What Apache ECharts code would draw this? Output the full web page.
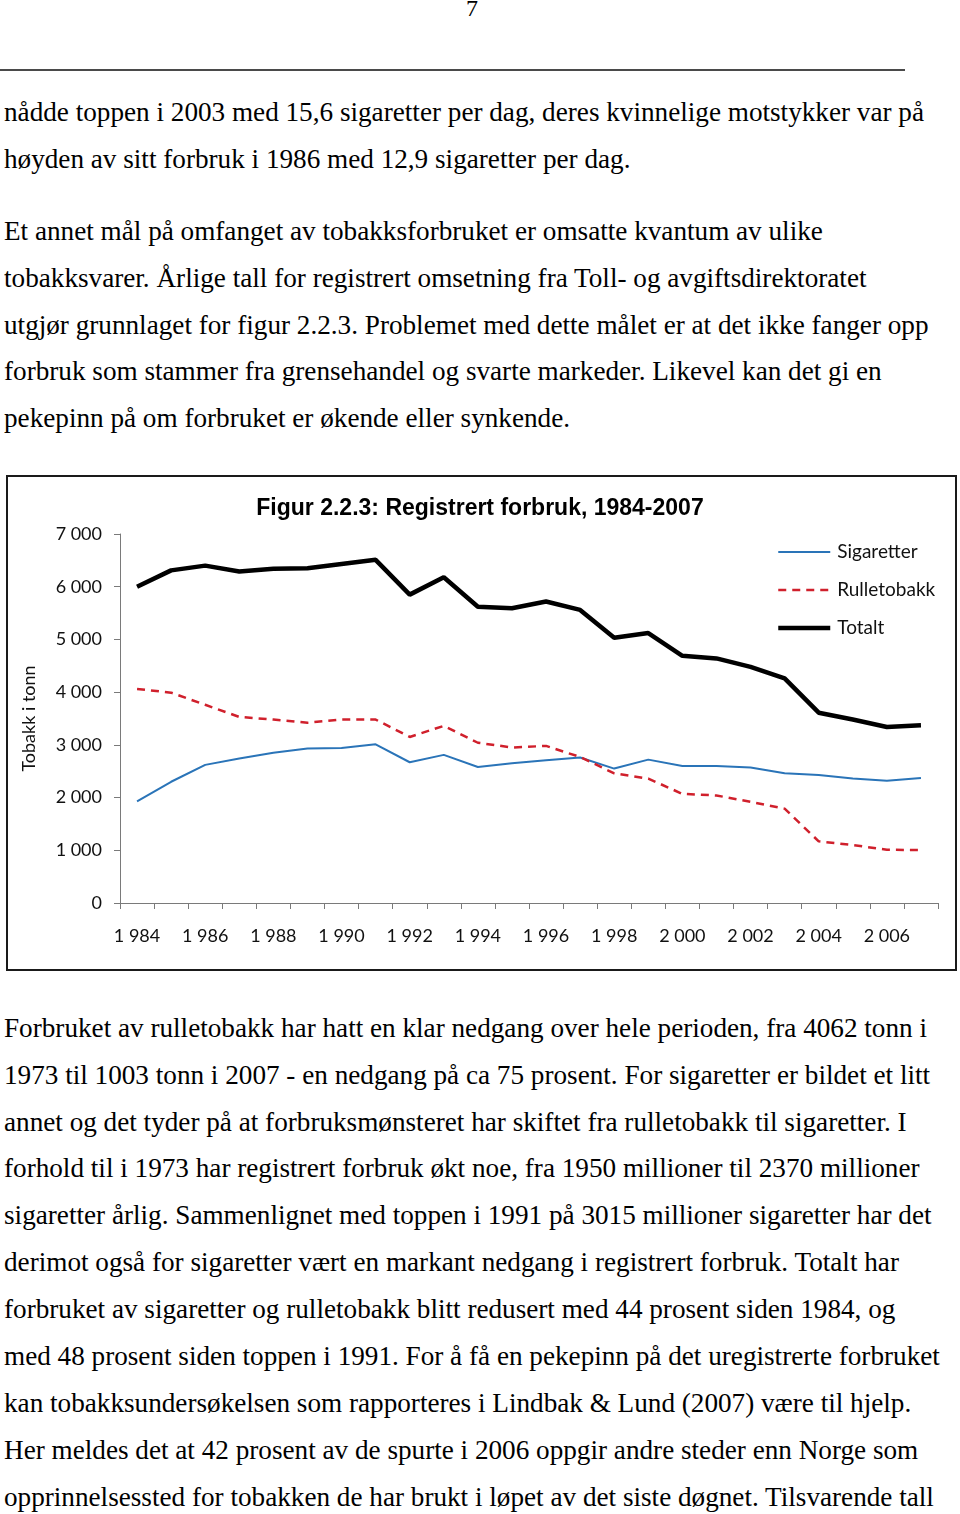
<!DOCTYPE html>
<html>
<head>
<meta charset="utf-8">
<script src="https://cdn.jsdelivr.net/npm/echarts@6/dist/echarts.min.js"></script>
<style>
html,body{margin:0;padding:0;background:#fff;}
body{width:960px;height:1514px;position:relative;overflow:hidden;font-family:"Liberation Serif","Times New Roman",serif;color:#000;}
.ln{position:absolute;left:4px;white-space:nowrap;font-size:27px;line-height:27px;transform-origin:0 0;}
#pg{position:absolute;left:0;width:944px;text-align:center;top:-4px;font-size:24px;line-height:24px;}
#rule{position:absolute;left:0;top:69px;width:905px;height:2px;background:#4a4a4a;}
#box{position:absolute;left:6px;top:475px;width:947px;height:492px;border:2px solid #1a1a1a;}
#chart{position:absolute;left:0;top:470px;width:960px;height:510px;}
</style>
</head>
<body>
<div id="pg">7</div>
<div id="rule"></div>
<div id="box"></div>
<div id="chart"></div>
<script>
// ---- chart data ----
const years = [1984,1985,1986,1987,1988,1989,1990,1991,1992,1993,1994,1995,1996,1997,1998,1999,2000,2001,2002,2003,2004,2005,2006,2007];
const sigaretter = [1930,2300,2620,2740,2850,2930,2940,3010,2670,2810,2580,2650,2710,2760,2550,2720,2600,2600,2570,2460,2430,2360,2320,2370];
const rulletobakk = [4060,3990,3760,3530,3480,3420,3480,3480,3150,3360,3040,2950,2980,2770,2460,2360,2070,2040,1920,1790,1170,1100,1010,1003];
const totalt = [6000,6310,6400,6290,6340,6350,6430,6510,5850,6180,5620,5590,5720,5560,5030,5120,4690,4640,4480,4260,3610,3480,3340,3370];
const seriesNames = ["Sigaretter","Rulletobakk","Totalt"];
const titleText = "Figur 2.2.3: Registrert forbruk, 1984-2007";
const yAxisName = "Tobakk i tonn";

// ---- page text ----
const lines = [
 [113,"nådde toppen i 2003 med 15,6 sigaretter per dag, deres kvinnelige motstykker var på"],
 [160,"høyden av sitt forbruk i 1986 med 12,9 sigaretter per dag."],
 [232,"Et annet mål på omfanget av tobakksforbruket er omsatte kvantum av ulike"],
 [279,"tobakksvarer. Årlige tall for registrert omsetning fra Toll- og avgiftsdirektoratet"],
 [326,"utgjør grunnlaget for figur 2.2.3. Problemet med dette målet er at det ikke fanger opp"],
 [372,"forbruk som stammer fra grensehandel og svarte markeder. Likevel kan det gi en"],
 [419,"pekepinn på om forbruket er økende eller synkende."],
 [1029,"Forbruket av rulletobakk har hatt en klar nedgang over hele perioden, fra 4062 tonn i"],
 [1076,"1973 til 1003 tonn i 2007 - en nedgang på ca 75 prosent. For sigaretter er bildet et litt"],
 [1123,"annet og det tyder på at forbruksmønsteret har skiftet fra rulletobakk til sigaretter. I"],
 [1169,"forhold til i 1973 har registrert forbruk økt noe, fra 1950 millioner til 2370 millioner"],
 [1216,"sigaretter årlig. Sammenlignet med toppen i 1991 på 3015 millioner sigaretter har det"],
 [1263,"derimot også for sigaretter vært en markant nedgang i registrert forbruk. Totalt har"],
 [1310,"forbruket av sigaretter og rulletobakk blitt redusert med 44 prosent siden 1984, og"],
 [1357,"med 48 prosent siden toppen i 1991. For å få en pekepinn på det uregistrerte forbruket"],
 [1404,"kan tobakksundersøkelsen som rapporteres i Lindbak & Lund (2007) være til hjelp."],
 [1451,"Her meldes det at 42 prosent av de spurte i 2006 oppgir andre steder enn Norge som"],
 [1498,"opprinnelsessted for tobakken de har brukt i løpet av det siste døgnet. Tilsvarende tall"]
];
const els = lines.map(([c,t]) => {
  const d = document.createElement('div');
  d.className = 'ln';
  d.style.top = (c - 14) + 'px';
  d.textContent = t;
  document.body.appendChild(d);
  return d;
});
const w0 = els[0].getBoundingClientRect().width;
const sx = 920 / w0;
els.forEach(d => d.style.transform = 'scaleX(' + sx + ')');

// ---- chart ----
const lab = "Lato, 'Open Sans', sans-serif";
const fmtK = v => { const s = String(v); return s.length > 3 ? s.slice(0, s.length-3) + ' ' + s.slice(-3) : s; };
const styles = [
  {color:'#2a74b8',width:2},
  {color:'#d0202c',width:2.5,type:[8,6]},
  {color:'#000',width:4.5}
];
const chart = echarts.init(document.getElementById('chart'), null, {renderer:'canvas'});
chart.setOption({
  animation:false,
  backgroundColor:'transparent',
  title:{text:titleText,left:'center',top:22,textStyle:{fontFamily:"'Liberation Sans', Arial, sans-serif",fontWeight:'bold',fontSize:23,color:'#000'}},
  legend:{
    orient:'vertical',left:771,top:67,itemWidth:52,itemHeight:14,itemGap:18,
    itemStyle:{opacity:0},
    textStyle:{fontFamily:lab,fontSize:19,color:'#111',lineHeight:20,padding:[0,0,0,2]},
    data:seriesNames.map((n,i)=>({name:n,lineStyle:Object.assign({},styles[i])}))
  },
  grid:{left:120,right:22,top:64,bottom:77,containLabel:false},
  xAxis:{
    type:'category',data:years,boundaryGap:true,
    axisLine:{lineStyle:{color:'#7a7a7a',width:1}},
    axisTick:{show:true,interval:0,length:6,lineStyle:{color:'#7a7a7a'}},
    axisLabel:{interval:1,margin:24,fontFamily:lab,fontSize:18,color:'#111',formatter:v=>fmtK(v)},
    splitLine:{show:false}
  },
  yAxis:{
    type:'value',min:0,max:7000,interval:1000,
    name:yAxisName,nameLocation:'middle',nameGap:82,nameRotate:90,
    nameTextStyle:{fontFamily:lab,fontSize:18,color:'#111'},
    axisLine:{show:true,lineStyle:{color:'#7a7a7a',width:1}},
    axisTick:{show:true,length:6,lineStyle:{color:'#7a7a7a'}},
    axisLabel:{margin:18,fontFamily:lab,fontSize:18,color:'#111',formatter:v=>fmtK(v)},
    splitLine:{show:false}
  },
  series:[
    {name:seriesNames[0],type:'line',data:sigaretter,symbol:'none',lineStyle:styles[0],itemStyle:{color:styles[0].color},z:2},
    {name:seriesNames[1],type:'line',data:rulletobakk,symbol:'none',lineStyle:styles[1],itemStyle:{color:styles[1].color},z:3},
    {name:seriesNames[2],type:'line',data:totalt,symbol:'none',lineStyle:styles[2],itemStyle:{color:styles[2].color},z:4}
  ]
});
</script>
</body>
</html>
